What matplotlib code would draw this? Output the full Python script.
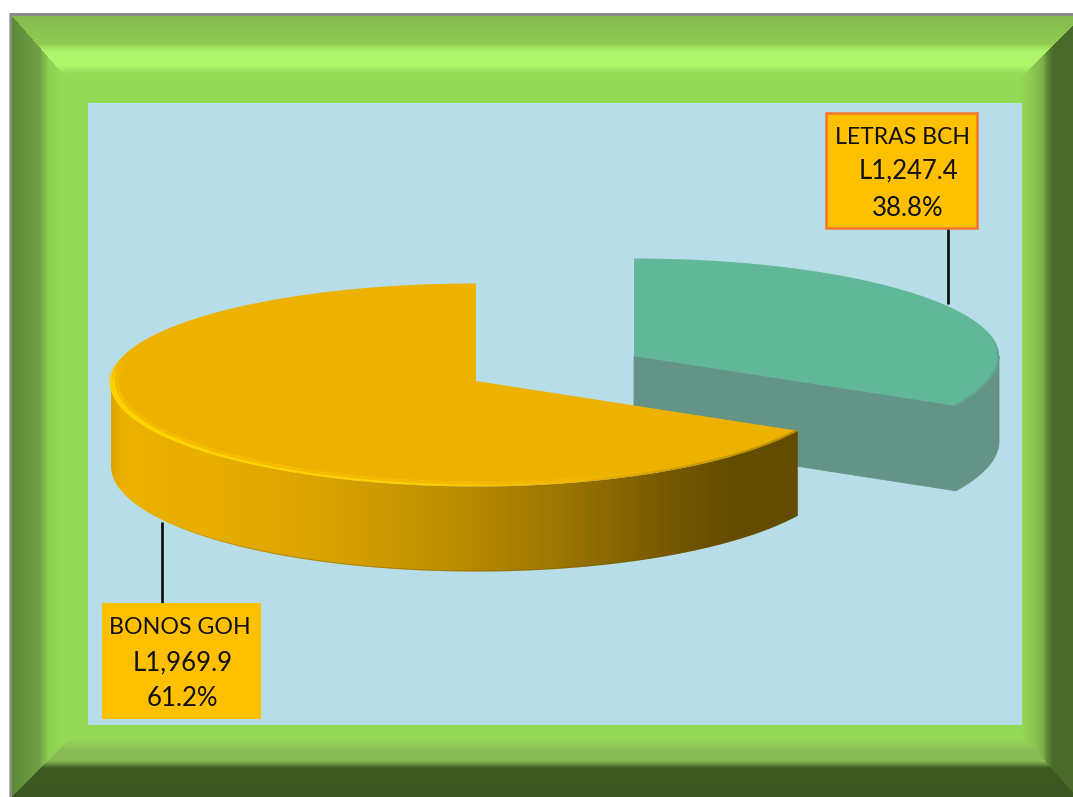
import numpy as np
import matplotlib
matplotlib.use('Agg')
import matplotlib.pyplot as plt
from matplotlib.collections import LineCollection
from matplotlib.colors import to_rgb
from matplotlib.patches import PathPatch, Polygon, Rectangle
from matplotlib.path import Path

# chart data
categories = ['LETRAS BCH', 'BONOS GOH']
amounts = [1247.4, 1969.9]

plt.rcParams['font.family'] = ['Lato', 'DejaVu Sans']

WIDTH, HEIGHT = 1073, 797
RX = 365            # pie radius on screen
RY_FAR = 97.5       # back half of the ellipse
RY_NEAR = 105.5     # front half, a bit larger because of perspective
DEPTH = 85
VIEW_SQUASH = 0.456  # how the tilted view bends the true slice angles
GREEN_CENTER = (634, 356)
GOLD_CENTER = (476, 381)


def screen_angle(share):
    """Share of the pie measured clockwise from the top -> ellipse parameter in degrees."""
    phi = 2 * np.pi * share
    return np.degrees(np.arctan2(np.sin(phi), VIEW_SQUASH * np.cos(phi))) % 360 - 90


def rim(center, t0, t1, drop=0, inset=0, n=200):
    t = np.radians(np.linspace(t0, t1, n))
    ry = np.where(np.sin(t) > 0, RY_NEAR, RY_FAR) - inset
    x = center[0] + (RX - inset) * np.cos(t)
    y = center[1] + ry * np.sin(t) + drop
    return np.column_stack([x, y])


def profile(d, stops):
    """Colour ramp for one bevel side, d is the distance from the outer edge."""
    pos = [s[0] for s in stops]
    cols = np.array([to_rgb(s[1]) for s in stops])
    return np.stack([np.interp(d, pos, cols[:, i]) for i in range(3)], axis=-1)


def rim_glow(arc, alpha_stops, width_stops, rgb, zorder):
    """Soft line along an arc whose opacity and width change along the way."""
    segs = np.stack([arc[:-1], arc[1:]], axis=1)
    pos = np.linspace(0, 1, len(segs))
    alpha = np.interp(pos, *alpha_stops)
    widths = np.interp(pos, *width_stops)
    colors = [(*rgb, a) for a in alpha]
    ax.add_collection(LineCollection(segs, colors=colors, linewidths=widths, zorder=zorder, capstyle='butt'))


def bevel_frame():
    yy, xx = np.mgrid[0:HEIGHT, 0:WIDTH] + 0.5
    left, top, right, bottom = xx - 12, yy - 16, WIDTH - xx, HEIGHT - yy

    top_stops = [(0, '#84bb4c'), (28, '#90cc52'), (34, '#aaf068'), (38, '#aef66c'), (50, '#aef56a'),
                 (57, '#98dc58'), (90, '#94d955')]
    left_stops = [(0, '#5c8a36'), (28, '#72a04a'), (31, '#7fb049'), (36, '#8ccf51'), (48, '#94d955'), (80, '#94d955')]
    right_stops = [(0, '#4a6a2c'), (20, '#4a6a2c'), (25, '#5b8535'), (30, '#7fb04a'), (40, '#8cc950'), (52, '#94d955')]
    bottom_stops = [(0, '#3b5721'), (29, '#3d5a22'), (36, '#88ba55'), (47, '#8abc55'), (58, '#94d955'), (72, '#94d955')]

    img = profile(top, top_stops)
    is_left = (left * 1.14 < top) & (left < bottom)
    is_bottom = (bottom <= left) & (bottom < top) & (bottom < 4 + 1.15 * right)
    is_right = (right < top - 9) & (bottom >= 4 + 1.15 * right)
    img[is_left] = profile(left[is_left], left_stops)
    img[is_bottom] = profile(bottom[is_bottom], bottom_stops)
    img[is_right] = profile(right[is_right], right_stops)

    # grey hairline round the frame and white page outside it
    img[(xx < 12) | (yy < 16)] = to_rgb('#8a8a8a')
    img[(xx < 10)] = to_rgb('#b9b9b9')
    img[(xx < 9) | (yy < 13)] = (1, 1, 1)
    return img


fig = plt.figure(figsize=(WIDTH / 100, HEIGHT / 100), dpi=100)
ax = fig.add_axes([0, 0, 1, 1])
ax.imshow(bevel_frame(), extent=(0, WIDTH, HEIGHT, 0), aspect='auto', zorder=0, interpolation='bilinear')
ax.add_patch(Rectangle((88, 103), 934, 622, facecolor='#b7dde8', edgecolor='none', zorder=1))

shares = np.array(amounts) / sum(amounts)
cut = screen_angle(shares[0])

# green slice (LETRAS BCH)
green_wall = np.vstack([rim(GREEN_CENTER, 0, cut), rim(GREEN_CENTER, cut, 0, drop=DEPTH)])
ax.add_patch(Polygon(green_wall, closed=True, facecolor='#649488', edgecolor='#649488', lw=0.6, zorder=2))
end_pt = rim(GREEN_CENTER, cut, cut, n=1)[0]
face = [GREEN_CENTER, end_pt, (end_pt[0], end_pt[1] + DEPTH), (GREEN_CENTER[0], GREEN_CENTER[1] + DEPTH)]
ax.add_patch(Polygon(face, closed=True, facecolor='#649488', edgecolor='#649488', lw=0.6, zorder=2))
green_top = np.vstack([[GREEN_CENTER], rim(GREEN_CENTER, -90, cut)])
ax.add_patch(Polygon(green_top, closed=True, facecolor='#60b899', edgecolor='none', zorder=3))
rim_glow(rim(GREEN_CENTER, -15, cut, inset=1, n=60), ([0, 0.3, 1], [0, 0.8, 0.8]), ([0, 1], [1.6, 1.6]),
         to_rgb('#62a08f'), 3)

# gold slice (BONOS GOH), side wall has a horizontal gradient
wall = np.vstack([rim(GOLD_CENTER, cut, 180), rim(GOLD_CENTER, 180, cut, drop=DEPTH)])
wall_patch = PathPatch(Path(np.vstack([wall, wall[0]])), facecolor='none', edgecolor='none', zorder=4)
ax.add_patch(wall_patch)
ramp_x = np.arange(100, 810)
ramp = profile(ramp_x, [(111, '#dca600'), (122, '#ebb200'), (210, '#e8ae00'), (330, '#d8a200'), (450, '#bd8e00'),
                        (560, '#9c7600'), (660, '#785b00'), (730, '#644c00'), (800, '#634c00')])[np.newaxis, :, :]
grad = ax.imshow(ramp, extent=(100, 810, 600, 380), aspect='auto', zorder=4)
grad.set_clip_path(wall_patch)

# thin dark edge under the wall
rim_glow(rim(GOLD_CENTER, 150, 40, drop=DEPTH, inset=0.5, n=120), ([0, 0.2, 1], [0, 0.35, 0.35]), ([0, 1], [0.8, 0.8]),
         to_rgb('#6e5200'), 4.5)

gold_top = np.vstack([[GOLD_CENTER], rim(GOLD_CENTER, cut, 270)])
ax.add_patch(Polygon(gold_top, closed=True, facecolor='#edb200', edgecolor='none', zorder=5))

# bevel along the front rim of the gold slice: soft wide band, bright core, dark towards the tip
rim_glow(rim(GOLD_CENTER, 195, 55, inset=3, n=160), ([0, 0.1, 0.7, 1], [0, 0.55, 0.45, 0]),
         ([0, 0.15, 0.5, 1], [7, 7, 4, 3]), to_rgb('#fcc500'), 6)
rim_glow(rim(GOLD_CENTER, 190, 70, inset=1.2, n=160), ([0, 0.1, 0.75, 1], [0, 1, 0.9, 0]),
         ([0, 0.15, 0.5, 1], [3.5, 3.5, 1.4, 1]), to_rgb('#ffd800'), 6.1)
rim_glow(rim(GOLD_CENTER, 75, cut, inset=1, n=80), ([0, 0.5, 1], [0, 0.5, 0.8]), ([0, 1], [1.5, 1.5]),
         to_rgb('#a67d00'), 6)

# leader lines
ax.plot([948, 948], [228, 304], color='#0a0a0a', lw=1.9, zorder=7, solid_capstyle='butt')
ax.plot([162, 162], [522, 603], color='#0a0a0a', lw=1.9, zorder=7, solid_capstyle='butt')

# label boxes
ax.add_patch(Rectangle((826, 113), 151, 115, facecolor='#ffc000', edgecolor='#f4762c', lw=1.8, zorder=8))
ax.add_patch(Rectangle((102, 603), 159, 116, facecolor='#ffc000', edgecolor='none', zorder=8))

label_style = dict(ha='center', va='center', color='#111111', zorder=9)
ax.text(902.5, 137, categories[0], fontsize=16.6, **label_style)
ax.text(908.5, 171, f'L{amounts[0]:,.1f}', fontsize=18.5, **label_style)
ax.text(908, 208, f'{shares[0]:.1%}', fontsize=18.5, **label_style)
ax.text(180, 627, categories[1], fontsize=16.7, **label_style)
ax.text(183, 663, f'L{amounts[1]:,.1f}', fontsize=18.5, **label_style)
ax.text(182, 699, f'{shares[1]:.1%}', fontsize=18.5, **label_style)

ax.set_xlim(0, WIDTH)
ax.set_ylim(HEIGHT, 0)
ax.axis('off')
fig.savefig('out.png', dpi=100)
